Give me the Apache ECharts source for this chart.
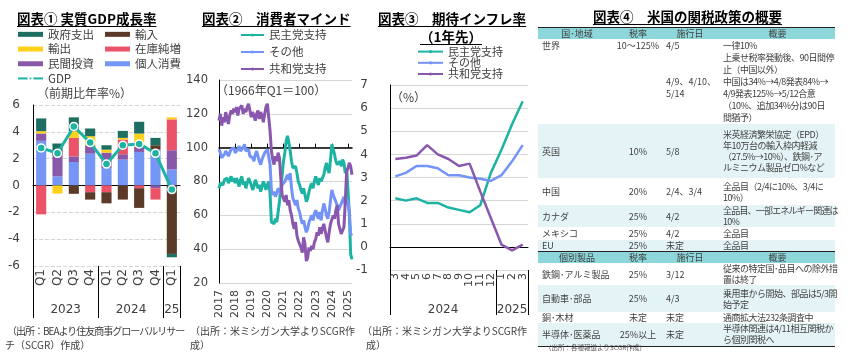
<!DOCTYPE html>
<html>
<head>
<meta charset="utf-8">
<script src="https://cdn.jsdelivr.net/npm/echarts@6/dist/echarts.min.js"></script>
<style>
  body { margin: 0; }
  #wrap { position: relative; width: 850px; height: 354px; background: #fff; overflow: hidden;
          font-family: 'Noto Sans CJK JP', sans-serif; color: #404040; }
  #chart { position: absolute; left: 0; top: 0; width: 850px; height: 354px; }
  .t { position: absolute; white-space: nowrap; }
  .ttl { font-weight: bold; font-size: 13.5px; line-height: 18px; color: #000;
         text-decoration: underline; text-underline-offset: 2px; }
  .note { font-size: 12px; line-height: 14px; }
  .src { font-size: 10px; line-height: 14px; }
  #tbl { position: absolute; left: 538px; top: 27px; width: 297px; border-collapse: collapse;
         table-layout: fixed; font-size: 9px; line-height: 11px; color: #404040; }
  #tbl td { padding: 0; vertical-align: middle; white-space: nowrap; overflow: visible; }
  #tbl td:nth-child(1) { padding-left: 4px; }
  #tbl td:nth-child(2) { text-align: center; }
  #tbl td:nth-child(3) { padding-left: 6px; }
  #tbl td:nth-child(4) { padding-left: 3px; letter-spacing: -0.5px; }
  #tbl tr.hd td { background: #8DD6DA; text-align: center; padding-left: 0; border-top: 1px solid #222; letter-spacing: 0; }
  #tbl tr.bl td { background: #E4F4F6; }
  #tbl tr.top td { vertical-align: top; line-height: 12px; padding-top: 1px; }
  #tbl tr.last td { border-bottom: 1px solid #222; }
</style>
</head>
<body>
<div id="wrap">
  <div id="chart"></div>

  <div class="t ttl" style="left:17px;top:9px">図表①&nbsp;実質GDP成長率</div>
  <div class="t note" style="left:37px;top:86px">（前期比年率%）</div>
  <div class="t src" style="left:7px;top:324px;letter-spacing:-1px">（出所：BEAより住友商事グローバルリサー</div>
  <div class="t src" style="left:5px;top:338px">チ（SCGR）作成）</div>

  <div class="t ttl" style="left:202px;top:9px">図表②　消費者マインド</div>
  <div class="t note" style="left:216px;top:83px">（1966年Q1＝100）</div>
  <div class="t src" style="left:190px;top:324px">（出所：米ミシガン大学よりSCGR作</div>
  <div class="t src" style="left:190px;top:338px">成）</div>

  <div class="t ttl" style="left:378px;top:9px;width:146px;text-align:center">図表③　期待インフレ率<br>（1年先）</div>
  <div class="t note" style="left:391px;top:90px">（%）</div>
  <div class="t src" style="left:362px;top:324px">（出所：米ミシガン大学よりSCGR作</div>
  <div class="t src" style="left:366px;top:338px">成）</div>

  <div class="t ttl" style="left:593px;top:7px">図表④　米国の関税政策の概要</div>
  <table id="tbl">
    <colgroup><col style="width:78px"><col style="width:44px"><col style="width:60px"><col style="width:115px"></colgroup>
    <tr class="hd" style="height:11px"><td>国･地域</td><td>税率</td><td>施行日</td><td>概要</td></tr>
    <tr class="top" style="height:85px"><td>世界</td><td>10～125%</td><td>4/5<br><br><br>4/9、4/10、<br>5/14</td><td>一律10%<br>上乗せ税率発動後、90日間停<br>止（中国以外）<br>中国は34%→4/8発表84%→<br>4/9発表125%→5/12合意<br>（10%、追加34%分は90日<br>間猶予）</td></tr>
    <tr class="bl" style="height:54px"><td>英国</td><td>10%</td><td>5/8</td><td>米英経済繁栄協定（EPD）<br>年10万台の輸入枠内軽減<br>（27.5%→10%）、鉄鋼･ア<br>ルミニウム製品ゼロ%など</td></tr>
    <tr style="height:27px"><td>中国</td><td>20%</td><td>2/4、3/4</td><td>全品目（2/4に10%、3/4に<br>10%）</td></tr>
    <tr class="bl" style="height:22px"><td>カナダ</td><td>25%</td><td>4/2</td><td style="letter-spacing:-0.8px">全品目、一部エネルギー関連は<br>10%</td></tr>
    <tr style="height:13px"><td>メキシコ</td><td>25%</td><td>4/2</td><td>全品目</td></tr>
    <tr class="bl" style="height:11px"><td>EU</td><td>25%</td><td>未定</td><td>全品目</td></tr>
    <tr class="hd" style="height:11px"><td>個別製品</td><td>税率</td><td>施行日</td><td>概要</td></tr>
    <tr style="height:21px"><td>鉄鋼･アルミ製品</td><td>25%</td><td>3/12</td><td>従来の特定国･品目への除外措<br>置は終了</td></tr>
    <tr class="bl" style="height:27px"><td>自動車･部品</td><td>25%</td><td>4/3</td><td>乗用車から開始、部品は5/3開<br>始予定</td></tr>
    <tr style="height:11px"><td>銅･木材</td><td>未定</td><td>未定</td><td>通商拡大法232条調査中</td></tr>
    <tr class="bl last" style="height:23px"><td>半導体･医薬品</td><td>25%以上</td><td>未定</td><td>半導体関連は4/11相互関税か<br>ら個別関税へ</td></tr>
  </table>
  <div class="t" style="left:545px;top:343px;font-size:6.5px;line-height:9px;color:#555">（出所：各種報道よりSCGR作成）</div>
</div>

<script>
  // ---- 図表① 実質GDP成長率（寄与度）
  var quarters = ['Q1', 'Q2', 'Q3', 'Q4', 'Q1', 'Q2', 'Q3', 'Q4', 'Q1'];
  var gdpYears = ['2023', '2024', '25'];
  var gdpYearSpans = [4, 4, 1];
  var consumption = [3.33, 0.68, 1.75, 2.37, 1.3, 1.93, 2.5, 2.67, 1.2];
  var investment = [0.55, 1.6, 0.42, 0.63, 1.15, 0.4, 0.37, -0.2, 1.43];
  var inventory = [-2.15, 0, 1.38, -0.5, -0.5, 1.1, -0.2, -0.85, 2.3];
  var exportsC = [0.17, -0.6, 0.5, 0.67, 0.22, 0.12, 1.0, 0, 0.15];
  var importsC = [0, 0.35, -0.62, -0.55, -0.83, -1.05, -1.47, 0.33, -5.1];
  var government = [0.95, 0.5, 1.03, 0.58, 0.33, 0.52, 0.88, 0.55, -0.25];
  var gdp = [2.8, 2.4, 4.4, 3.2, 1.6, 3.0, 3.1, 2.4, -0.3];

  // ---- 図表② 消費者マインド（2017年1月～2025年4月）
  var sentStartYear = 2017;
  var demSent = [76, 79, 80, 78, 81, 80, 82, 79, 81, 83, 80, 82,
    79, 82, 80, 77, 81, 83, 78, 80, 76, 79, 82, 80,
    78, 75, 77, 81, 79, 76, 78, 74, 77, 80, 78, 75,
    78, 80, 73, 56, 57, 55, 58, 56, 62, 68, 76, 84,
    92, 97, 104, 107, 103, 98, 92, 88, 87, 89, 85, 80,
    78, 75, 73, 76, 72, 68, 70, 74, 77, 79, 76, 80,
    83, 80, 78, 82, 80, 79, 84, 88, 91, 87, 85, 93,
    102, 101, 96, 92, 90, 91, 92, 89, 93, 91, 85, 88,
    75, 61, 37, 34];
  var indSent = [99, 97, 94, 93, 96, 98, 97, 95, 96, 99, 98, 100,
    97, 96, 99, 101, 98, 97, 100, 102, 98, 97, 99, 95,
    96, 94, 92, 96, 98, 95, 92, 90, 93, 95, 97, 98,
    99, 100, 90, 75, 72, 74, 71, 73, 76, 75, 73, 78,
    78, 80, 82, 84, 81, 85, 76, 70, 68, 66, 69, 64,
    62, 58, 55, 57, 53, 50, 52, 56, 58, 60, 57, 61,
    63, 60, 58, 62, 57, 63, 67, 64, 60, 58, 62, 69,
    75, 72, 70, 68, 66, 63, 65, 67, 69, 71, 66, 70,
    68, 62, 49, 48];
  var repSent = [116, 120, 113, 118, 115, 121, 117, 114, 119, 122, 120, 123,
    121, 124, 119, 123, 122, 125, 120, 123, 121, 124, 126, 122,
    118, 121, 119, 116, 120, 122, 117, 121, 119, 115, 120, 124,
    126, 127, 110, 98, 93, 90, 95, 92, 97, 94, 82, 72,
    70, 68, 72, 66, 69, 63, 60, 55, 52, 56, 48, 45,
    44, 41, 38, 47, 43, 33, 35, 41, 39, 42, 40, 44,
    46, 50, 48, 53, 49, 52, 55, 51, 47, 44, 50, 55,
    56, 60, 58, 63, 66, 55, 52, 49, 51, 53, 68, 86,
    88, 91, 89, 84];

  // ---- 図表③ 期待インフレ率（1年先）
  var inflMonths = ['3', '4', '5', '6', '7', '8', '9', '10', '11', '12', '1', '2', '3'];
  var inflYears = ['2024', '2025'];
  var inflYearSpans = [10, 3];
  var demInfl = [2.1, 2.0, 2.1, 1.9, 1.9, 1.7, 1.6, 1.5, 1.8, 3.2, 4.2, 5.3, 6.3];
  var indInfl = [3.05, 3.2, 3.5, 3.5, 3.4, 3.1, 3.1, 3.0, 2.95, 2.85, 3.1, 3.7, 4.4];
  var repInfl = [3.8, 3.85, 3.95, 4.4, 4.0, 3.8, 3.5, 3.6, 2.4, 1.25, 0.1, -0.15, 0.1];

  var grey = '#404040';
  var numFont = "'DejaVu Sans', 'Noto Sans CJK JP', sans-serif";
  var cjkFont = "'Noto Sans CJK JP', sans-serif";
  var cDem = '#1DB3A2', cInd = '#7393F7', cRep = '#8A57AE';

  var sentMonths = [];
  for (var i = 0; i < demSent.length; i++) {
    sentMonths.push((sentStartYear + Math.floor(i / 12)) + '/' + (i % 12 + 1));
  }

  // 年区切りの位置と年ラベルの中心
  var spanEdges = function (spans) {
    var edges = [0], acc = 0;
    for (var i = 0; i < spans.length; i++) { acc += spans[i]; edges.push(acc); }
    return edges;
  };
  var spanCenters = function (spans) {
    var edges = spanEdges(spans), c = [];
    for (var i = 0; i < spans.length; i++) c.push((edges[i] + edges[i + 1]) / 2);
    return c;
  };
  var yearAxis = function (grid, spans, names, tickLen, labelMargin) {
    var centers = spanCenters(spans);
    return {
      type: 'value', gridIndex: grid, position: 'bottom', min: 0, max: spanEdges(spans)[spans.length],
      axisLine: {show: false, onZero: false},
      splitLine: {show: false},
      axisTick: {show: true, customValues: spanEdges(spans), length: tickLen, lineStyle: {color: '#000'}},
      axisLabel: {
        customValues: centers, margin: labelMargin, fontSize: 12, color: grey, fontFamily: numFont,
        formatter: function (v) {
          for (var k = 0; k < centers.length; k++) if (Math.abs(centers[k] - v) < 1e-6) return names[k];
          return '';
        }
      }
    };
  };

  var grids = [
    {left: 33, top: 105, width: 147, height: 161},
    {left: 219, top: 80, width: 133, height: 203},
    {left: 390, top: 85, width: 138, height: 185}
  ];
  grids.forEach(function (g) { g.outerBoundsMode = 'none'; });

  var sentMin = 20, sentMax = 140, sentBase = 100;

  var barSeries = function (name, data, color) {
    return {
      type: 'bar', name: name, data: data, stack: 'gdp', xAxisIndex: 0, yAxisIndex: 0,
      barWidth: '62%', itemStyle: {color: color}
    };
  };
  var lineSeries = function (name, data, color, xi, yi, w) {
    return {
      type: 'line', name: name, data: data, xAxisIndex: xi, yAxisIndex: yi, symbol: 'none',
      lineStyle: {color: color, width: w}, itemStyle: {color: color}
    };
  };
  var yAx = function (grid, min, max, interval, dashed, margin, fs) {
    return {
      type: 'value', gridIndex: grid, min: min, max: max, interval: interval,
      axisLine: {show: true, lineStyle: {color: '#000', width: 1}},
      axisTick: {show: false},
      splitLine: {lineStyle: {color: '#D6D6D6', type: dashed ? 'dashed' : 'solid'}},
      axisLabel: {color: grey, fontSize: fs, fontFamily: numFont, margin: margin}
    };
  };
  var legendBox = function (left, top, fs, lh, w, h, data) {
    return {
      left: left, top: top, orient: 'vertical', padding: 0, itemWidth: w, itemHeight: h, itemGap: 0,
      selectedMode: false,
      textStyle: {fontSize: fs, lineHeight: lh, color: grey, fontFamily: cjkFont},
      data: data
    };
  };

  var chart = echarts.init(document.getElementById('chart'));
  chart.setOption({
    animation: false,
    grid: grids,
    legend: [
      legendBox(17, 27, 11.5, 14.7, 25, 5,
        [{name: '政府支出', icon: 'rect'}, {name: '輸出', icon: 'rect'}, {name: '民間投資', icon: 'rect'}, 'GDP']),
      legendBox(105, 27, 11.5, 14.7, 25, 5,
        [{name: '輸入', icon: 'rect'}, {name: '在庫純増', icon: 'rect'}, {name: '個人消費', icon: 'rect'}]),
      legendBox(240, 26.5, 11.5, 17, 23, 4, ['民主党支持', 'その他', '共和党支持']),
      legendBox(417, 46, 11, 11.2, 25, 4, ['民主党支持', 'その他', '共和党支持'])
    ],
    xAxis: [
      // 0: 図表① ゼロ線
      {
        type: 'category', gridIndex: 0, data: quarters,
        axisLine: {onZero: true, lineStyle: {color: '#000', width: 1}},
        axisTick: {inside: true, length: 4, interval: 0, lineStyle: {color: '#000'}},
        axisLabel: {show: false}
      },
      // 1: 図表① 四半期ラベル
      {
        type: 'category', gridIndex: 0, data: quarters, position: 'bottom',
        axisLine: {show: false, onZero: false},
        axisTick: {length: 34, interval: 0, lineStyle: {color: '#000'}},
        axisLabel: {rotate: 90, margin: 3, interval: 0, fontSize: 12, color: grey, fontFamily: numFont}
      },
      // 2: 図表① 年ラベル
      yearAxis(0, gdpYearSpans, gdpYears, 52, 38),
      // 3: 図表② 100の線
      {
        type: 'category', gridIndex: 1, data: sentMonths, boundaryGap: false, position: 'bottom',
        offset: -(sentBase - sentMin) / (sentMax - sentMin) * grids[1].height,
        axisLine: {onZero: false, lineStyle: {color: '#000', width: 1.5}},
        axisTick: {inside: true, length: 4, interval: 11, lineStyle: {color: '#000'}},
        axisLabel: {show: false}
      },
      // 4: 図表② 年ラベル
      {
        type: 'category', gridIndex: 1, data: sentMonths, boundaryGap: false, position: 'bottom',
        axisLine: {show: false, onZero: false},
        axisTick: {show: false},
        axisLabel: {
          rotate: 90, margin: 7, interval: 11, fontSize: 11, color: grey, fontFamily: numFont,
          formatter: function (v) { return v.split('/')[0]; }
        }
      },
      // 5: 図表③ ゼロ線
      {
        type: 'category', gridIndex: 2, data: inflMonths,
        axisLine: {onZero: true, lineStyle: {color: '#000', width: 1}},
        axisTick: {inside: true, length: 4, interval: 0, lineStyle: {color: '#000'}},
        axisLabel: {show: false}
      },
      // 6: 図表③ 月ラベル
      {
        type: 'category', gridIndex: 2, data: inflMonths, position: 'bottom',
        axisLine: {show: false, onZero: false},
        axisTick: {length: 22, interval: 0, lineStyle: {color: '#000'}},
        axisLabel: {rotate: 90, margin: 3, interval: 0, fontSize: 11, color: grey, fontFamily: numFont}
      },
      // 7: 図表③ 年ラベル
      yearAxis(2, inflYearSpans, inflYears, 45, 34)
    ],
    yAxis: [
      yAx(0, -6, 6, 2, true, 13, 12),
      yAx(1, sentMin, sentMax, 20, false, 11, 11.5),
      yAx(2, -1, 7, 1, false, 22, 12)
    ],
    series: [
      barSeries('個人消費', consumption, '#7596F5'),
      barSeries('民間投資', investment, '#8859A8'),
      barSeries('在庫純増', inventory, '#EB5468'),
      barSeries('輸出', exportsC, '#FFD11A'),
      barSeries('輸入', importsC, '#5C3A28'),
      barSeries('政府支出', government, '#1F6E62'),
      {
        type: 'line', name: 'GDP', data: gdp, xAxisIndex: 0, yAxisIndex: 0,
        symbol: 'circle', symbolSize: 8, z: 5,
        lineStyle: {color: cDem, width: 3},
        itemStyle: {color: cDem, borderColor: '#fff', borderWidth: 1.5}
      },
      lineSeries('民主党支持', demSent, cDem, 3, 1, 3),
      lineSeries('その他', indSent, cInd, 3, 1, 3),
      lineSeries('共和党支持', repSent, cRep, 3, 1, 3),
      lineSeries('民主党支持', demInfl, cDem, 5, 2, 2.5),
      lineSeries('その他', indInfl, cInd, 5, 2, 2.5),
      lineSeries('共和党支持', repInfl, cRep, 5, 2, 2.5)
    ]
  });
</script>
</body>
</html>
